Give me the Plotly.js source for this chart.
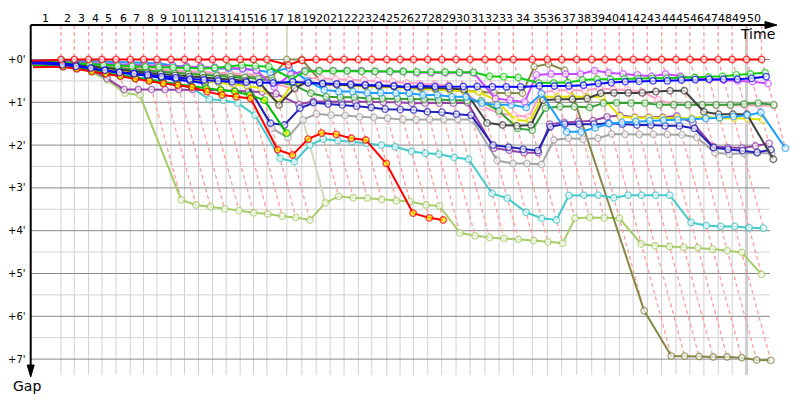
<!DOCTYPE html>
<html><head><meta charset="utf-8">
<script src="https://cdn.plot.ly/plotly-3.0.1.min.js"></script>
<style>html,body{margin:0;padding:0;background:#fff}#chart{width:800px;height:400px}</style>
</head><body><div id="chart"></div>
<script>
// Leader lap durations (seconds), laps 1..50
const lapSeconds = [156.5,69.4,74.6,69.9,73.0,74.6,69.4,69.9,73.0,71.0,
  73.0,73.0,71.5,73.0,69.4,69.9,104.3,78.3,74.6,73.0,
  73.0,74.6,69.9,78.3,69.4,69.4,75.1,73.0,74.6,73.0,
  78.3,73.0,74.6,99.1,78.3,75.1,78.3,78.3,69.4,74.6,
  73.0,73.0,75.1,74.6,73.0,73.0,74.6,73.0,75.1,78.3];
const lapLabels = Array.from({length:50},(_,i)=>String(i+1));
const gapTicks = [0,1,2,3,4,5,6,7];
const gapTickText = ["+0'","+1'","+2'","+3'","+4'","+5'","+6'","+7'"];

// Gaps to leader (minutes) per lap, starting at lap 0
const gapLeader = [0.03,0,0,0,0,0,0,0,0,0, 0,0,0,0,0,0,0,0.13,0.02,0, 0,0,0,0,0,0,0,0,0,0, 0,0,0,0,0,0,0,0,0,0, 0,0,0,0,0,0,0,0,0,0, 0];
const gapOlive = [0.02,0.04,0.07,0.10,0.13,0.16,0.20,0.23,0.26,0.29, 0.31,0.34,0.36,0.36,0.39,0.40,0.42,0,0,0.56, 0.57,0.58,0.60,0.61,0.62,0.66,0.69,0.70,0.71,0.73, 0.75,0.78,0.78,0.79,0.17,0.10,0.25,5.87,6.93,6.93, 6.94,6.95,6.95,6.97,7.02,7.03];
const gapLime = [0.10,0.12,0.18,0.30,0.48,0.79,0.83,3.28,3.40,3.44, 3.49,3.53,3.58,3.61,3.66,3.69,3.75,3.35,3.20,3.23, 3.24,3.27,3.30,3.32,3.40,3.42,4.05,4.12,4.16,4.18, 4.20,4.23,4.26,4.29,3.71,3.69,3.70,3.71,4.31,4.35, 4.37,4.39,4.40,4.43,4.47,4.51,5.02];
const gapTurquoise = [0.05,0.10,0.15,0.20,0.28,0.33,0.40,0.45,0.52,0.58, 0.67,0.93,0.95,1.02,1.30,2.31,2.39,2.00,1.86,1.90, 1.92,1.96,2.00,2.04,2.15,2.19,2.21,2.29,2.33,3.13, 3.24,3.57,3.71,3.75,3.18,3.17,3.17,3.23,3.17,3.17, 3.17,3.17,3.81,3.88,3.90,3.90,3.93,3.94];
const gapRedY = [0.18,0.17,0.22,0.28,0.33,0.39,0.45,0.50,0.56,0.60, 0.65,0.75,0.83,0.87,0.91,2.11,2.23,1.86,1.72,1.75, 1.84,1.88,2.43,3.59,3.70,3.75];
const gapGreenY = [0.15,0.16,0.20,0.26,0.32,0.38,0.44,0.49,0.54,0.58, 0.63,0.67,0.71,0.75,0.83,0.95,1.72];
const gapBlueY = [0.05,0.09,0.13,0.22,0.26,0.31,0.34,0.39,0.43,0.48,0.50,0.56];
const gapGreen = [0.05,0.06,0.09,0.11,0.13,0.15,0.16,0.17,0.18,0.19, 0.20,0.21,0.20,0.17,0.13,0.15,0.17,0.45,0.28,0.27, 0.27,0.27,0.28,0.28,0.28,0.28,0.29,0.29,0.29,0.30, 0.30,0.39,0.40,0.42,0.55,0.55,0.54,0.48,0.46,0.46, 0.45,0.45,0.44,0.44,0.43,0.42,0.41,0.39,0.36,0.34, 0.31];
const gapBlue = [0.08,0.12,0.16,0.20,0.25,0.30,0.33,0.36,0.40,0.43, 0.46,0.48,0.50,0.52,0.53,0.54,0.55,0.52,0.55,0.56, 0.57,0.58,0.59,0.60,0.62,0.64,0.62,0.63,0.63,0.63, 0.63,0.64,0.64,0.64,0.62,0.62,0.62,0.60,0.56,0.54, 0.52,0.51,0.50,0.50,0.48,0.47,0.46,0.46,0.46,0.44, 0.40];
const gapViolet = [0.03,0.05,0.07,0.08,0.10,0.11,0.12,0.13,0.14,0.15, 0.16,0.17,0.18,0.20,0.21,0.25,0.64,0.35,0.26,0.26, 0.26,0.26,0.26,0.28,0.28,0.28,0.31,0.31,0.31,0.31, 0.31,0.91,0.95,0.99,0.36,0.34,0.34,0.34,0.26,0.31, 0.34,0.36,0.39,0.34,0.39,0.44,0.46,0.48,0.50,0.52, 0.56];
const gapPink = [0.04,0.07,0.10,0.13,0.16,0.18,0.20,0.22,0.24,0.26, 0.28,0.30,0.31,0.32,0.33,0.35,0.55,0.70,0.44,0.44, 0.46,0.48,0.49,0.50,0.52,0.55,0.57,0.58,0.60,0.75, 1.10,1.26,1.30,1.34,0.78,0.72,0.72,0.72,0.68,0.70, 0.71,0.75,0.94,1.05,1.06,1.06,1.07,1.07,1.07,1.08, 1.08];
const gapLightBlue = [0.02,0.02,0.03,0.04,0.05,0.06,0.07,0.08,0.09,0.14, 0.17,0.18,0.21,0.21,0.22,0.25,0.30,0.20,0.50,0.71, 0.75,0.75,0.78,0.78,0.79,0.79,0.83,0.83,0.87,0.87, 1.02,1.06,1.06,1.12,0.80,1.69,1.69,1.60,1.50,1.47, 1.45,1.43,1.42,1.41,1.40,1.38,1.36,1.33,1.30,1.24, 2.07];
const gapBlack = [0.06,0.09,0.12,0.16,0.20,0.24,0.28,0.31,0.34,0.37, 0.40,0.43,0.45,0.47,0.50,0.55,1.06,0.67,0.52,0.58, 0.59,0.60,0.61,0.62,0.63,0.64,0.65,0.67,0.68,0.70, 1.48,1.53,1.55,1.53,0.95,0.93,0.93,0.91,0.79,0.78, 0.78,0.78,0.75,0.73,0.73,1.22,1.28,1.28,1.28,2.33];
const gapDarkGreen = [0.04,0.08,0.12,0.15,0.18,0.21,0.24,0.27,0.30,0.32, 0.34,0.36,0.38,0.40,0.42,0.45,0.50,0.60,0.79,0.87, 0.88,0.88,0.91,0.91,0.91,0.92,0.93,0.94,0.95,0.96, 0.97,1.20,1.61,1.65,1.14,1.10,1.10,1.12,1.02,1.01, 1.02,1.02,1.06,1.06,1.06,1.06,1.06,1.06,1.04,1.02, 1.06];
const gapYellow = [0.09,0.11,0.15,0.19,0.23,0.27,0.31,0.35,0.39,0.42, 0.46,0.50,0.54,0.58,0.62,0.67,1.02,0.56,0.55,0.58, 0.60,0.62,0.63,0.64,0.65,0.66,0.68,0.70,0.72,0.74, 0.76,0.95,1.41,1.44,0.87,0.87,0.87,0.87,0.87,1.34, 1.36,1.36,1.37,1.37,1.37,1.34,1.37,1.37,1.38,1.41];
const gapNavy = [0.10,0.14,0.18,0.22,0.27,0.31,0.35,0.38,0.42,0.45, 0.48,0.50,0.53,0.56,0.60,1.49,1.53,1.14,1.01,1.04, 1.06,1.09,1.12,1.16,1.17,1.18,1.22,1.23,1.28,1.30, 2.00,2.05,2.10,2.13,1.57,1.51,1.51,1.51,1.49,1.51, 1.53,1.53,1.55,1.55,1.61,2.06,2.10,2.13,2.17,2.11];
const gapPurple = [0.12,0.14,0.20,0.24,0.44,0.70,0.70,0.70,0.70,0.70, 0.70,0.71,0.72,0.73,0.74,0.76,0.80,1.05,0.98,0.98, 0.98,0.99,0.99,1.00,1.00,1.02,1.02,1.02,1.02,1.01, 2.07,2.12,2.18,2.18,1.51,1.47,1.45,1.43,1.34,1.31, 1.35,1.35,1.35,1.32,1.48,2.04,2.06,2.07,2.02,1.96];
const gapGray = [0.07,0.10,0.13,0.16,0.19,0.21,0.22,0.23,0.24,0.28, 0.30,0.33,0.36,0.40,0.45,1.61,1.82,1.41,1.27,1.30, 1.31,1.34,1.35,1.37,1.40,1.41,1.40,1.40,1.40,1.40, 2.36,2.43,2.43,2.45,1.88,1.84,1.86,1.84,1.74,1.75, 1.75,1.75,1.75,1.76,1.82,2.18,2.21,2.19,2.19,2.19];

const seriesList = [
  {g: gapLime, line:'#A8CC6A', fill:'#FFFFFF'},
  {g: gapOlive, line:'#868646', fill:'#FFFFFF'},
  {g: gapTurquoise, line:'#44CACA', fill:'#FFFFFF'},
  {g: gapGray, line:'#A6A6A6', fill:'#FFFFFF'},
  {g: gapPurple, line:'#9444A6', fill:'#FFFFFF'},
  {g: gapNavy, line:'#2222B8', fill:'#FFFFFF'},
  {g: gapPink, line:'#FF9EC4', fill:'#FFFFFF'},
  {g: gapYellow, line:'#E2E200', fill:'#FFFFFF'},
  {g: gapDarkGreen, line:'#34A034', fill:'#FFFFFF'},
  {g: gapBlack, line:'#404040', fill:'#FFFFFF'},
  {g: gapLightBlue, line:'#1E9EFF', fill:'#FFFFFF'},
  {g: gapViolet, line:'#C64CFF', fill:'#FFFFFF'},
  {g: gapGreen, line:'#10CC10', fill:'#FFFFFF'},
  {g: gapBlueY, line:'#0000FF', fill:'#FFFF00'},
  {g: gapGreenY, line:'#00C000', fill:'#FFFF00'},
  {g: gapRedY, line:'#FF0000', fill:'#FFFF00'},
  {g: gapBlue, line:'#0A0AF5', fill:'#FFFFFF'},
  {g: gapLeader, line:'#FF0000', fill:'#FFFFFF'}
];

// ---- geometry constants ----
const PXX = 11.495, PXY = 42.8;
const L = 31, R = 795, T0 = 25, B = 383;
const xMax = (R - L) / PXX;
const yTop = -(59.5 - T0) / PXY, yBot = (B - 59.5) / PXY;
const px2x = px => (px - L) / PXX;
const px2py = py => 1 - (py - T0) / (B - T0);
const px2pxp = px => (px - L) / (R - L);

const T = [0];
lapSeconds.forEach((s, i) => T.push(T[i] + s / 60));

const traces = seriesList.map(s => ({
  type: 'scatter', mode: 'lines+markers',
  x: s.g.map((g, i) => T[i] + g), y: s.g,
  line: {color: s.line, width: 2},
  marker: {size: s.g.map((g, i) => i === 0 ? 0 : 6.5), color: s.fill, line: {color: s.line, width: 1.4}},
  hoverinfo: 'skip', showlegend: false
}));

const shapes = [];
const gridEnd = px2x(770);
for (let k = 0.5; k < 7.01; k += 0.5) {
  const major = Math.abs(k - Math.round(k)) < 1e-6;
  if (!major) shapes.push({type:'line', layer:'below', xref:'x', yref:'y', x0:0, x1:gridEnd, y0:k, y1:k, line:{color:'#D2D2D2', width:1}});
}
for (let n = 1; n <= 48; n++) {
  shapes.push({type:'line', layer:'below', xref:'x', yref:'y', x0:T[n], x1:T[n], y0:0, y1:7.37, line:{color:'#D0D0D0', width:1}});
}
shapes.push({type:'line', layer:'below', xref:'x', yref:'y', x0:T[49], x1:T[49], y0:yTop, y1:7.37, line:{color:'#CFCFCF', width:3}});
for (let k = 0; k <= 7; k++) {
  shapes.push({type:'line', layer:'below', xref:'x', yref:'y', x0:0, x1:gridEnd, y0:k, y1:k, line:{color:'#888888', width:1}});
}
// lap lines
for (let n = 1; n <= 50; n++) {
  let gm = 0;
  seriesList.forEach(s => { if (s.g.length > n && s.g[n] > gm) gm = s.g[n]; });
  const special = n === 17;
  shapes.push({type:'path', layer:'below', xref:'x', yref:'y',
    path: `M ${T[n]},${yTop} L ${T[n]},0 L ${T[n] + gm},${gm}`,
    line: special ? {color:'#D8D8C0', width:2} : {color:'#FF9C9C', width:1.3, dash:'4px,3px'}});
}
// axes with arrows
shapes.push({type:'line', layer:'above', xref:'paper', yref:'paper', x0:px2pxp(30.7), x1:px2pxp(768), y0:1, y1:1, line:{color:'#000', width:2}});
shapes.push({type:'path', layer:'above', xref:'paper', yref:'paper', fillcolor:'#000', line:{color:'#000', width:1},
  path:`M ${px2pxp(777)},${px2py(25)} L ${px2pxp(765)},${px2py(21.5)} L ${px2pxp(765)},${px2py(28.5)} Z`});
shapes.push({type:'line', layer:'above', xref:'paper', yref:'paper', x0:px2pxp(30.7), x1:px2pxp(30.7), y0:1, y1:px2py(367), line:{color:'#000', width:2}});
shapes.push({type:'path', layer:'above', xref:'paper', yref:'paper', fillcolor:'#000', line:{color:'#000', width:1},
  path:`M ${px2pxp(30.7)},${px2py(377)} L ${px2pxp(27.2)},${px2py(365)} L ${px2pxp(34.2)},${px2py(365)} Z`});

const annotations = [];
lapLabels.forEach((lab, i) => {
  annotations.push({xref:'x', yref:'paper', x:(T[i] + T[i+1]) / 2, y:px2py(18), text:lab, showarrow:false,
    xanchor:'center', yanchor:'middle', font:{family:'DejaVu Sans', size:11, color:'#000'}});
});
gapTicks.forEach((v, i) => {
  annotations.push({xref:'paper', yref:'y', x:px2pxp(27.5), y:v, text:gapTickText[i], showarrow:false,
    xanchor:'right', yanchor:'middle', font:{family:'DejaVu Sans', size:10, color:'#000'}});
});
annotations.push({xref:'paper', yref:'paper', x:px2pxp(777), y:px2py(34), text:'Time', showarrow:false, xanchor:'right', yanchor:'middle', font:{family:'DejaVu Sans', size:14, color:'#000'}});
annotations.push({xref:'paper', yref:'paper', x:px2pxp(11), y:px2py(386), text:'Gap', showarrow:false, xanchor:'left', yanchor:'middle', font:{family:'DejaVu Sans', size:14, color:'#000'}});

const layout = {
  width:800, height:400, margin:{l:L, r:800-R, t:T0, b:400-B, pad:0},
  paper_bgcolor:'#FFFFFF', plot_bgcolor:'#FFFFFF', showlegend:false,
  xaxis:{range:[0, xMax], showgrid:false, zeroline:false, showticklabels:false, showline:false, ticks:''},
  yaxis:{range:[yBot, yTop], showgrid:false, zeroline:false, showticklabels:false, showline:false, ticks:''},
  shapes, annotations
};
Plotly.newPlot('chart', traces, layout, {staticPlot:true, displayModeBar:false});
</script>
</body></html>
